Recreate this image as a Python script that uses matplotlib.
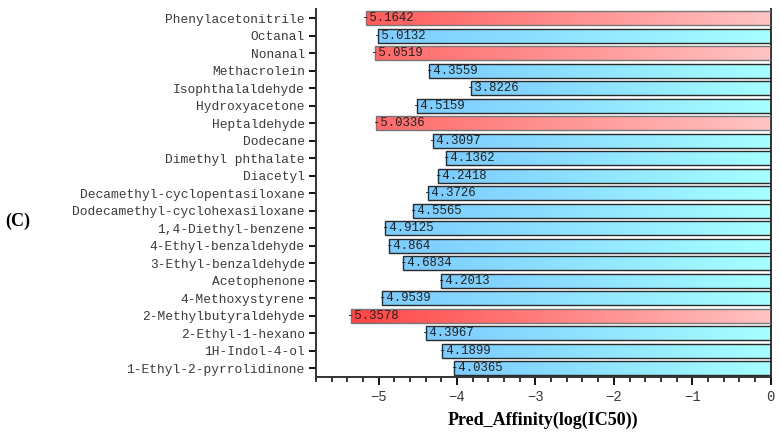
import numpy as np
import matplotlib
matplotlib.use('Agg')
import matplotlib.pyplot as plt
from matplotlib.colors import LinearSegmentedColormap

# bottom -> top
compounds = ['1-Ethyl-2-pyrrolidinone', '1H-Indol-4-ol', '2-Ethyl-1-hexano',
             '2-Methylbutyraldehyde', '4-Methoxystyrene', 'Acetophenone',
             '3-Ethyl-benzaldehyde', '4-Ethyl-benzaldehyde', '1,4-Diethyl-benzene',
             'Dodecamethyl-cyclohexasiloxane', 'Decamethyl-cyclopentasiloxane',
             'Diacetyl', 'Dimethyl phthalate', 'Dodecane', 'Heptaldehyde',
             'Hydroxyacetone', 'Isophthalaldehyde', 'Methacrolein', 'Nonanal',
             'Octanal', 'Phenylacetonitrile']
affinity = [-4.0365, -4.1899, -4.3967, -5.3578, -4.9539, -4.2013, -4.6834,
            -4.864, -4.9125, -4.5565, -4.3726, -4.2418, -4.1362, -4.3097,
            -5.0336, -4.5159, -3.8226, -4.3559, -5.0519, -5.0132, -5.1642]
highlighted = ['2-Methylbutyraldehyde', 'Heptaldehyde', 'Nonanal', 'Phenylacetonitrile']

mono = 'Liberation Mono'
serif = 'Liberation Serif'

blue_cmap = LinearSegmentedColormap.from_list('b', ['#7ccbff', '#a6ffff'])
red_start = LinearSegmentedColormap.from_list('rs', ['#ff4444', '#ff6a6a'])


def bar_gradient(ax, y, v, h, hot):
    grad = np.linspace(0, 1, 256).reshape(1, -1)
    if hot:
        c0 = np.array(red_start(np.clip((v + 5.36) / 0.33, 0, 1)))
        c1 = np.array([1.0, 0.77, 0.77, 1.0])
        rgb = c0[None, None, :] * (1 - grad[..., None]) + c1[None, None, :] * grad[..., None]
        ax.imshow(rgb, extent=(v, 0, y - h / 2, y + h / 2), aspect='auto',
                  interpolation='bilinear', zorder=2)
    else:
        ax.imshow(grad, cmap=blue_cmap, extent=(v, 0, y - h / 2, y + h / 2),
                  aspect='auto', interpolation='bilinear', zorder=2)


fig = plt.figure(figsize=(7.8, 4.38), dpi=100)
ax = fig.add_axes([0.405, 0.139, 0.583, 0.840])

ypos = np.arange(len(compounds))
h = 0.8
for y, name, v in zip(ypos, compounds, affinity):
    hot = name in highlighted
    bar_gradient(ax, y, v, h, hot)
    ax.barh(y, v, height=h, facecolor='none',
            edgecolor='#777777' if hot else '#2a2a2a', linewidth=1.0, zorder=3)
    ax.annotate(f'{v:g}', (v, y), xytext=(-2.5, 0), textcoords='offset points',
                ha='left', va='center', fontsize=8.9, family=mono,
                color='#222222', zorder=4)

ax.set_xlim(-5.8, 0)
ax.set_ylim(-0.52, 20.52)
ax.set_yticks(ypos)
ax.set_yticklabels(compounds, family=mono, fontsize=9.3, color='#3a3a3a')
ax.set_xticks([-5, -4, -3, -2, -1, 0])
ax.set_xticklabels(['\u22125', '\u22124', '\u22123', '\u22122', '\u22121', '0'],
                   family=mono, fontsize=10, color='#3a3a3a')
ax.set_xticks(np.arange(-5.8, 0.01, 0.2), minor=True)
ax.tick_params(axis='x', which='major', direction='out', length=6, width=1.3, pad=3)
ax.tick_params(axis='x', which='minor', direction='out', length=3.5, width=1.1)
ax.tick_params(axis='y', direction='out', length=5, width=1.3, pad=3)

for s in ['left', 'bottom', 'right']:
    ax.spines[s].set_linewidth(1.4)
    ax.spines[s].set_color('#333333')
ax.spines['top'].set_visible(False)

ax.set_xlabel('Pred_Affinity(log(IC50))', family=serif, fontweight='bold',
              fontsize=13, labelpad=6)
fig.text(0.007, 0.495, '(C)', family=serif, fontsize=13, fontweight='bold',
         va='center', ha='left')

fig.savefig('out.png', dpi=100)
